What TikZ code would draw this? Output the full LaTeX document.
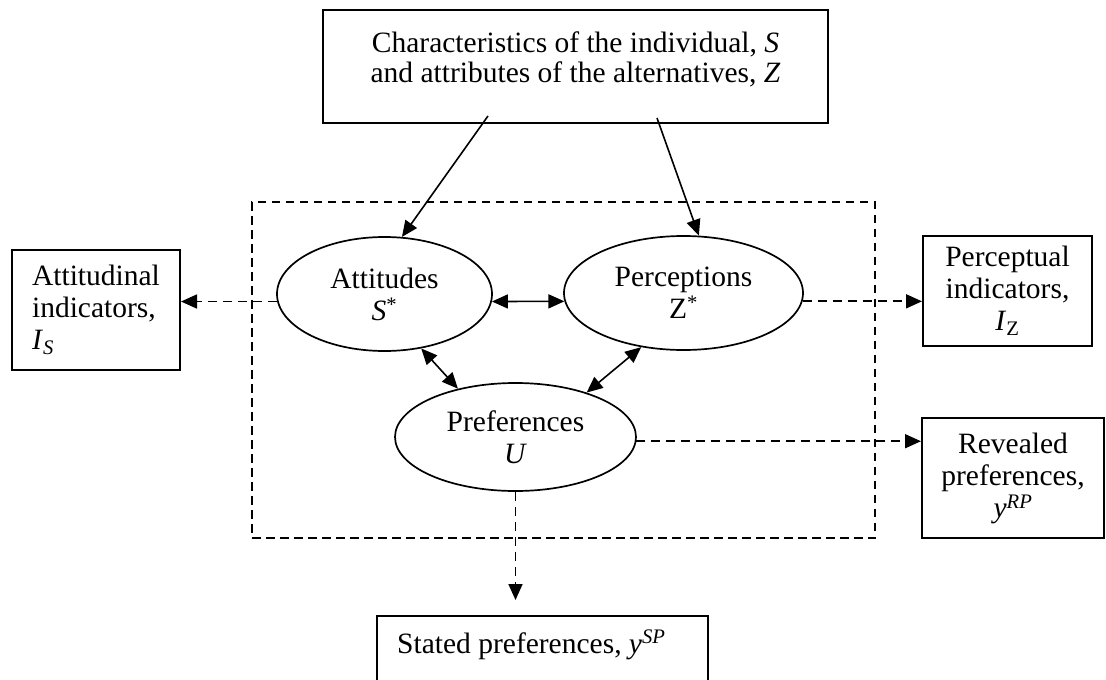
\documentclass[tikz,border=0pt]{standalone}
\usepackage{fontspec}
\setmainfont{Liberation Serif}
\usetikzlibrary{shapes.geometric,arrows.meta}
\tikzset{
  txt/.style={font=\fontsize{29.5}{32}\selectfont},
  box/.style={draw, rectangle, line width=2pt, inner sep=0pt},
  oval/.style={draw, ellipse, line width=1.7pt, inner sep=0pt, align=center},
  tip/.style={-{Triangle[length=16pt,width=14pt]}},
  solidarrow/.style={line width=1.6pt, tip},
  bothway/.style={line width=1.6pt, {Triangle[length=16pt,width=14pt]}-{Triangle[length=16pt,width=14pt]}},
  dasharrow/.style={line width=1.7pt, dash pattern=on 9pt off 6pt, tip},
  frame/.style={draw, rectangle, line width=1.7pt, dash pattern=on 8.5pt off 5.5pt, inner sep=0pt},
}
\begin{document}
\begin{tikzpicture}[x=1pt,y=-1pt, every node/.style={txt}]
\useasboundingbox (0,0) rectangle (1106,680);
\clip (0,0) rectangle (1106,680);

% top box
\node[box, minimum width=505pt, minimum height=112.7pt] (top) at (575.5,66.35) {};
\node[anchor=north, align=center, inner sep=0pt, font=\fontsize{29.5}{30}\selectfont] (toptext) at (575.5,32)
  {Characteristics of the individual, \textit{S}\\and attributes of the alternatives, \textit{Z}};

% latent frame
\node[frame, minimum width=623pt, minimum height=336pt] (latent) at (563.5,370) {};

% ellipses
\node[oval, minimum width=215pt, minimum height=114pt] (att) at (384.5,294) {Attitudes\\\textit{S}\textsuperscript{*}};
\node[oval, minimum width=239pt, minimum height=114pt] (perc) at (683.5,293) {Perceptions\\Z\textsuperscript{*}};
\node[oval, minimum width=241pt, minimum height=108pt] (pref) at (515.5,437) {Preferences\\\textit{U}};

% indicator boxes
\node[box, minimum width=168pt, minimum height=120pt, align=left] (attind) at (96,310)
  {Attitudinal\\indicators,\\\textit{I}\textsubscript{\textit{S}}};
\node[box, minimum width=169pt, minimum height=110pt, align=center] (percind) at (1007.5,291)
  {Perceptual\\indicators,\\\textit{I}\textsubscript{Z}};
\node[box, minimum width=182pt, minimum height=120pt, align=center] (rp) at (1013,478)
  {Revealed\\preferences,\\\textit{y}\textsuperscript{\textit{RP}}};
\node[box, minimum width=331pt, minimum height=90pt, anchor=north west] (sp) at (376,615) {};
\node[anchor=base west, inner sep=0pt] (sptext) at (397,653)
  {Stated preferences, \textit{y}\textsuperscript{\textit{SP}}};

% solid arrows from the top box
\coordinate (s1) at (488,116);
\coordinate (s2) at (657,118);
\draw[solidarrow] (s1) -- (att.73);
\draw[solidarrow] (s2) -- (perc.75);

% two-way arrows
\draw[bothway] (att.-4) -- (perc.184.6);
\draw[bothway] (att.-56) -- (pref.140);
\draw[bothway] (perc.232) -- (pref.32.4);

% dashed arrows to indicators
\draw[dasharrow] (att.184) -- (att.184 -| attind.east);
\draw[dasharrow] (perc.-4.6) -- (perc.-4.6 -| percind.west);
\draw[dasharrow] (pref.-2.5) -- (pref.-2.5 -| rp.west);
\draw[dasharrow, shorten >=15pt] (pref.south) -- (pref.south |- sp.north);
\end{tikzpicture}
\end{document}
